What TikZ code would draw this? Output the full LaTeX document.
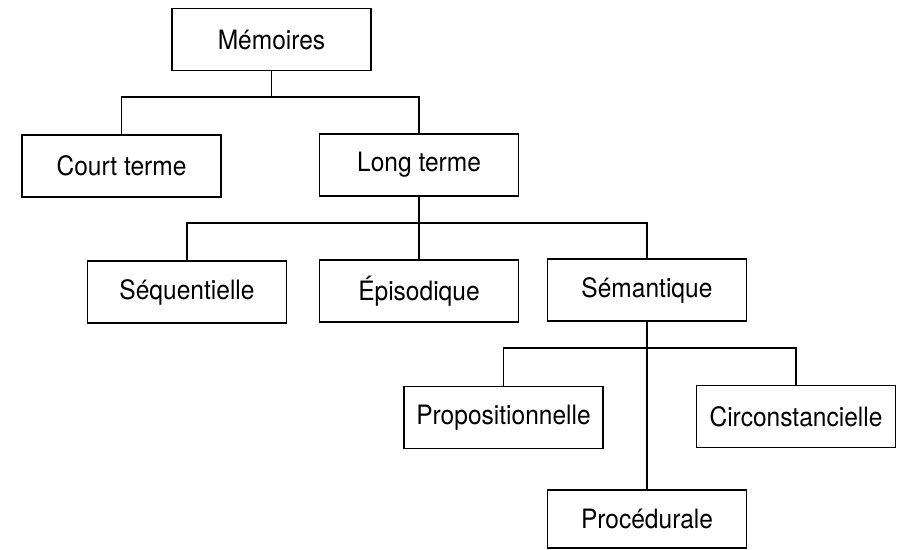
\documentclass[tikz,border=0pt]{standalone}
\usepackage{fontspec}
\setmainfont[FakeStretch=0.92]{TeX Gyre Heros}
\usetikzlibrary{positioning,calc}
\tikzset{block/.style={draw,thick,minimum width=89.5pt,minimum height=27.9pt,inner sep=0pt,align=center,font=\fontsize{12}{14}\selectfont},
         line/.style={thick}
     }

\begin{document}
\begin{tikzpicture}[x=0.45pt,y=-0.45pt]
\useasboundingbox (0,0) rectangle (901,550);
\node[block](mem) at (271.5,39.5) {Mémoires};
\node[block](court) at (121.5,166) {Court terme};
\node[block](long) at (419,165) {Long terme};
\node[block](seq) at (187,292) {Séquentielle};
\node[block](epi) at (419,291) {Épisodique};
\node[block](sem) at (647,290) {Sémantique};
\node[block](prop) at (503.5,417.5) {Propositionnelle};
\node[block](circ) at (796,416.5) {Circonstancielle};
\node[block, minimum height=26.1pt](proc) at (647,519) {Procédurale};
% niveaux des embranchements
\coordinate (b1) at (0,97);
\coordinate (b2) at (0,223);
\coordinate (b3) at (0,348);
\draw[line] (mem) -- (mem|-b1);
\draw[line] (court.north) |- (mem|-b1) -| (long.north);
\draw[line] (long) -- (epi);
\draw[line] (seq.north) |- (long|-b2) -| (sem.north);
\draw[line] (sem) -- (proc);
\draw[line] (prop.north) |- (sem|-b3) -| (circ.north);
\end{tikzpicture}
\end{document}
